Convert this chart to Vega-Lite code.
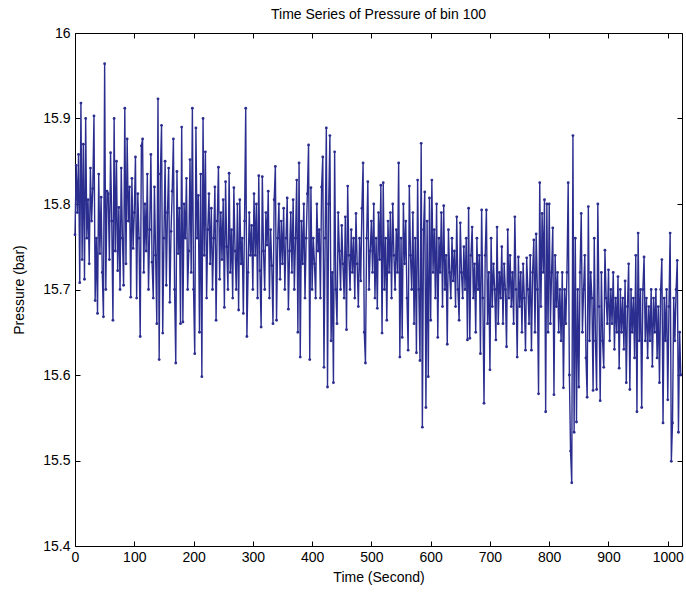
{
  "$schema": "https://vega.github.io/schema/vega-lite/v6.json",
  "width": 607,
  "height": 513,
  "autosize": {"type": "none"},
  "padding": {"left": 75, "top": 33, "right": 4, "bottom": 46},
  "background": "white",
  "title": {"text": "Time Series of Pressure of bin 100", "font": "Liberation Sans", "fontSize": 14, "fontWeight": "normal", "color": "black", "offset": 4},
  "config": {
    "view": {"stroke": "black", "strokeWidth": 1},
    "axis": {"labelFont": "Liberation Sans", "labelFontSize": 14, "labelColor": "black", "labelFlush": false, "titleFont": "Liberation Sans", "titleFontSize": 14, "titleFontWeight": "normal", "titleColor": "black", "domain": false, "ticks": true, "tickColor": "black", "tickOpacity": 1, "tickWidth": 1, "grid": false, "tickSize": 5, "offset": -5, "zindex": 1}
  },
  "data": {"values": [
{"t":0,"p":15.764},{"t":2,"p":15.845},{"t":4,"p":15.79},{"t":6,"p":15.858},{"t":8,"p":15.708},{"t":10,"p":15.918},{"t":12,"p":15.735},{"t":14,"p":15.87},{"t":16,"p":15.712},{"t":18,"p":15.9},
{"t":20,"p":15.76},{"t":22,"p":15.805},{"t":24,"p":15.73},{"t":26,"p":15.842},{"t":28,"p":15.78},{"t":30,"p":15.818},{"t":32,"p":15.903},{"t":34,"p":15.687},{"t":36,"p":15.76},{"t":38,"p":15.672},
{"t":40,"p":15.835},{"t":42,"p":15.742},{"t":44,"p":15.808},{"t":46,"p":15.72},{"t":48,"p":15.668},{"t":50,"p":15.964},{"t":52,"p":15.7},{"t":54,"p":15.815},{"t":56,"p":15.812},{"t":58,"p":15.735},
{"t":60,"p":15.86},{"t":62,"p":15.78},{"t":64,"p":15.664},{"t":66,"p":15.9},{"t":68,"p":15.745},{"t":70,"p":15.85},{"t":72,"p":15.722},{"t":74,"p":15.796},{"t":76,"p":15.7},{"t":78,"p":15.842},
{"t":80,"p":15.76},{"t":82,"p":15.705},{"t":84,"p":15.912},{"t":86,"p":15.73},{"t":88,"p":15.876},{"t":90,"p":15.78},{"t":92,"p":15.82},{"t":94,"p":15.691},{"t":96,"p":15.83},{"t":98,"p":15.748},
{"t":100,"p":15.79},{"t":102,"p":15.855},{"t":104,"p":15.69},{"t":106,"p":15.812},{"t":108,"p":15.76},{"t":110,"p":15.645},{"t":112,"p":15.868},{"t":114,"p":15.876},{"t":116,"p":15.72},{"t":118,"p":15.8},
{"t":120,"p":15.745},{"t":122,"p":15.835},{"t":124,"p":15.7},{"t":126,"p":15.77},{"t":128,"p":15.858},{"t":130,"p":15.732},{"t":132,"p":15.69},{"t":134,"p":15.82},{"t":136,"p":15.74},{"t":138,"p":15.66},
{"t":140,"p":15.923},{"t":142,"p":15.618},{"t":144,"p":15.835},{"t":146,"p":15.892},{"t":148,"p":15.649},{"t":150,"p":15.76},{"t":152,"p":15.85},{"t":154,"p":15.705},{"t":156,"p":15.79},{"t":158,"p":15.842},
{"t":160,"p":15.685},{"t":162,"p":15.768},{"t":164,"p":15.815},{"t":166,"p":15.876},{"t":168,"p":15.7},{"t":170,"p":15.614},{"t":172,"p":15.838},{"t":174,"p":15.742},{"t":176,"p":15.795},{"t":178,"p":15.66},
{"t":180,"p":15.89},{"t":182,"p":15.662},{"t":184,"p":15.8},{"t":186,"p":15.76},{"t":188,"p":15.83},{"t":190,"p":15.7},{"t":192,"p":15.745},{"t":194,"p":15.852},{"t":196,"p":15.72},{"t":198,"p":15.912},
{"t":200,"p":15.7},{"t":202,"p":15.625},{"t":204,"p":15.889},{"t":206,"p":15.76},{"t":208,"p":15.81},{"t":210,"p":15.65},{"t":212,"p":15.835},{"t":214,"p":15.598},{"t":216,"p":15.9},{"t":218,"p":15.74},
{"t":220,"p":15.861},{"t":222,"p":15.69},{"t":224,"p":15.77},{"t":226,"p":15.812},{"t":228,"p":15.73},{"t":230,"p":15.795},{"t":232,"p":15.7},{"t":234,"p":15.76},{"t":236,"p":15.82},{"t":238,"p":15.664},
{"t":240,"p":15.78},{"t":242,"p":15.843},{"t":244,"p":15.712},{"t":246,"p":15.79},{"t":248,"p":15.735},{"t":250,"p":15.805},{"t":252,"p":15.679},{"t":254,"p":15.826},{"t":256,"p":15.75},{"t":258,"p":15.7},
{"t":260,"p":15.836},{"t":262,"p":15.72},{"t":264,"p":15.77},{"t":266,"p":15.69},{"t":268,"p":15.819},{"t":270,"p":15.745},{"t":272,"p":15.7},{"t":274,"p":15.8},{"t":276,"p":15.676},{"t":278,"p":15.805},
{"t":280,"p":15.73},{"t":282,"p":15.76},{"t":284,"p":15.672},{"t":286,"p":15.78},{"t":288,"p":15.912},{"t":290,"p":15.645},{"t":292,"p":15.72},{"t":294,"p":15.79},{"t":296,"p":15.74},{"t":298,"p":15.775},
{"t":300,"p":15.7},{"t":302,"p":15.812},{"t":304,"p":15.74},{"t":306,"p":15.8},{"t":308,"p":15.69},{"t":310,"p":15.833},{"t":312,"p":15.722},{"t":314,"p":15.656},{"t":316,"p":15.832},{"t":318,"p":15.745},
{"t":320,"p":15.7},{"t":322,"p":15.79},{"t":324,"p":15.752},{"t":326,"p":15.815},{"t":328,"p":15.69},{"t":330,"p":15.77},{"t":332,"p":15.728},{"t":334,"p":15.66},{"t":336,"p":15.805},{"t":338,"p":15.844},
{"t":340,"p":15.664},{"t":342,"p":15.76},{"t":344,"p":15.8},{"t":346,"p":15.712},{"t":348,"p":15.78},{"t":350,"p":15.73},{"t":352,"p":15.795},{"t":354,"p":15.7},{"t":356,"p":15.76},{"t":358,"p":15.807},
{"t":360,"p":15.677},{"t":362,"p":15.745},{"t":364,"p":15.79},{"t":366,"p":15.72},{"t":368,"p":15.805},{"t":370,"p":15.7},{"t":372,"p":15.76},{"t":374,"p":15.828},{"t":376,"p":15.65},{"t":378,"p":15.848},
{"t":380,"p":15.621},{"t":382,"p":15.78},{"t":384,"p":15.73},{"t":386,"p":15.8},{"t":388,"p":15.69},{"t":390,"p":15.76},{"t":392,"p":15.812},{"t":394,"p":15.869},{"t":396,"p":15.618},{"t":398,"p":15.819},
{"t":400,"p":15.7},{"t":402,"p":15.76},{"t":404,"p":15.73},{"t":406,"p":15.69},{"t":408,"p":15.8},{"t":410,"p":15.745},{"t":412,"p":15.77},{"t":414,"p":15.69},{"t":416,"p":15.82},{"t":418,"p":15.855},
{"t":420,"p":15.609},{"t":422,"p":15.76},{"t":424,"p":15.889},{"t":426,"p":15.586},{"t":428,"p":15.8},{"t":430,"p":15.88},{"t":432,"p":15.64},{"t":434,"p":15.72},{"t":436,"p":15.591},{"t":438,"p":15.861},
{"t":440,"p":15.7},{"t":442,"p":15.66},{"t":444,"p":15.79},{"t":446,"p":15.745},{"t":448,"p":15.7},{"t":450,"p":15.775},{"t":452,"p":15.73},{"t":454,"p":15.69},{"t":456,"p":15.785},{"t":458,"p":15.653},
{"t":460,"p":15.821},{"t":462,"p":15.74},{"t":464,"p":15.7},{"t":466,"p":15.77},{"t":468,"p":15.72},{"t":470,"p":15.76},{"t":472,"p":15.69},{"t":474,"p":15.789},{"t":476,"p":15.73},{"t":478,"p":15.68},
{"t":480,"p":15.76},{"t":482,"p":15.71},{"t":484,"p":15.795},{"t":486,"p":15.848},{"t":488,"p":15.65},{"t":490,"p":15.614},{"t":492,"p":15.76},{"t":494,"p":15.826},{"t":496,"p":15.7},{"t":498,"p":15.745},
{"t":500,"p":15.78},{"t":502,"p":15.72},{"t":504,"p":15.8},{"t":506,"p":15.69},{"t":508,"p":15.76},{"t":510,"p":15.678},{"t":512,"p":15.79},{"t":514,"p":15.735},{"t":516,"p":15.822},{"t":518,"p":15.649},
{"t":520,"p":15.825},{"t":522,"p":15.7},{"t":524,"p":15.76},{"t":526,"p":15.664},{"t":528,"p":15.78},{"t":530,"p":15.72},{"t":532,"p":15.79},{"t":534,"p":15.69},{"t":536,"p":15.8},{"t":538,"p":15.74},
{"t":540,"p":15.7},{"t":542,"p":15.77},{"t":544,"p":15.72},{"t":546,"p":15.848},{"t":548,"p":15.621},{"t":550,"p":15.76},{"t":552,"p":15.644},{"t":554,"p":15.8},{"t":556,"p":15.73},{"t":558,"p":15.78},
{"t":560,"p":15.69},{"t":562,"p":15.629},{"t":564,"p":15.821},{"t":566,"p":15.74},{"t":568,"p":15.7},{"t":570,"p":15.79},{"t":572,"p":15.66},{"t":574,"p":15.76},{"t":576,"p":15.626},{"t":578,"p":15.828},
{"t":580,"p":15.7},{"t":582,"p":15.617},{"t":584,"p":15.871},{"t":586,"p":15.539},{"t":588,"p":15.77},{"t":590,"p":15.814},{"t":592,"p":15.562},{"t":594,"p":15.78},{"t":596,"p":15.598},{"t":598,"p":15.807},
{"t":600,"p":15.664},{"t":602,"p":15.828},{"t":604,"p":15.72},{"t":606,"p":15.77},{"t":608,"p":15.69},{"t":610,"p":15.8},{"t":612,"p":15.644},{"t":614,"p":15.76},{"t":616,"p":15.72},{"t":618,"p":15.79},
{"t":620,"p":15.68},{"t":622,"p":15.798},{"t":624,"p":15.7},{"t":626,"p":15.74},{"t":628,"p":15.636},{"t":630,"p":15.77},{"t":632,"p":15.72},{"t":634,"p":15.69},{"t":636,"p":15.76},{"t":638,"p":15.71},
{"t":640,"p":15.745},{"t":642,"p":15.68},{"t":644,"p":15.785},{"t":646,"p":15.7},{"t":648,"p":15.664},{"t":650,"p":15.778},{"t":652,"p":15.72},{"t":654,"p":15.69},{"t":656,"p":15.75},{"t":658,"p":15.7},
{"t":660,"p":15.76},{"t":662,"p":15.641},{"t":664,"p":15.795},{"t":666,"p":15.643},{"t":668,"p":15.74},{"t":670,"p":15.773},{"t":672,"p":15.69},{"t":674,"p":15.73},{"t":676,"p":15.65},{"t":678,"p":15.76},
{"t":680,"p":15.7},{"t":682,"p":15.74},{"t":684,"p":15.625},{"t":686,"p":15.793},{"t":688,"p":15.69},{"t":690,"p":15.567},{"t":692,"p":15.74},{"t":694,"p":15.793},{"t":696,"p":15.66},{"t":698,"p":15.72},
{"t":700,"p":15.606},{"t":702,"p":15.76},{"t":704,"p":15.68},{"t":706,"p":15.73},{"t":708,"p":15.7},{"t":710,"p":15.641},{"t":712,"p":15.773},{"t":714,"p":15.66},{"t":716,"p":15.72},{"t":718,"p":15.69},
{"t":720,"p":15.75},{"t":722,"p":15.66},{"t":724,"p":15.73},{"t":726,"p":15.7},{"t":728,"p":15.633},{"t":730,"p":15.77},{"t":732,"p":15.69},{"t":734,"p":15.74},{"t":736,"p":15.68},{"t":738,"p":15.72},
{"t":740,"p":15.66},{"t":742,"p":15.785},{"t":744,"p":15.7},{"t":746,"p":15.621},{"t":748,"p":15.738},{"t":750,"p":15.68},{"t":752,"p":15.72},{"t":754,"p":15.65},{"t":756,"p":15.73},{"t":758,"p":15.69},
{"t":760,"p":15.629},{"t":762,"p":15.737},{"t":764,"p":15.7},{"t":766,"p":15.66},{"t":768,"p":15.74},{"t":770,"p":15.629},{"t":772,"p":15.72},{"t":774,"p":15.758},{"t":776,"p":15.65},{"t":778,"p":15.765},
{"t":780,"p":15.7},{"t":782,"p":15.578},{"t":784,"p":15.825},{"t":786,"p":15.68},{"t":788,"p":15.789},{"t":790,"p":15.72},{"t":792,"p":15.805},{"t":794,"p":15.557},{"t":796,"p":15.8},{"t":798,"p":15.65},
{"t":800,"p":15.8},{"t":802,"p":15.66},{"t":804,"p":15.72},{"t":806,"p":15.772},{"t":808,"p":15.577},{"t":810,"p":15.74},{"t":812,"p":15.68},{"t":814,"p":15.72},{"t":816,"p":15.65},{"t":818,"p":15.7},
{"t":820,"p":15.64},{"t":822,"p":15.72},{"t":824,"p":15.585},{"t":826,"p":15.7},{"t":828,"p":15.66},{"t":830,"p":15.72},{"t":832,"p":15.825},{"t":834,"p":15.6},{"t":836,"p":15.511},{"t":838,"p":15.474},
{"t":840,"p":15.88},{"t":842,"p":15.533},{"t":844,"p":15.76},{"t":846,"p":15.545},{"t":848,"p":15.7},{"t":850,"p":15.586},{"t":852,"p":15.72},{"t":854,"p":15.789},{"t":856,"p":15.65},{"t":858,"p":15.7},
{"t":860,"p":15.74},{"t":862,"p":15.62},{"t":864,"p":15.574},{"t":866,"p":15.797},{"t":868,"p":15.64},{"t":870,"p":15.72},{"t":872,"p":15.69},{"t":874,"p":15.582},{"t":876,"p":15.76},{"t":878,"p":15.64},
{"t":880,"p":15.583},{"t":882,"p":15.8},{"t":884,"p":15.68},{"t":886,"p":15.57},{"t":888,"p":15.72},{"t":890,"p":15.64},{"t":892,"p":15.609},{"t":894,"p":15.746},{"t":896,"p":15.69},{"t":898,"p":15.66},
{"t":900,"p":15.723},{"t":902,"p":15.64},{"t":904,"p":15.7},{"t":906,"p":15.66},{"t":908,"p":15.72},{"t":910,"p":15.63},{"t":912,"p":15.69},{"t":914,"p":15.65},{"t":916,"p":15.715},{"t":918,"p":15.608},
{"t":920,"p":15.7},{"t":922,"p":15.65},{"t":924,"p":15.69},{"t":926,"p":15.63},{"t":928,"p":15.71},{"t":930,"p":15.591},{"t":932,"p":15.68},{"t":934,"p":15.73},{"t":936,"p":15.583},{"t":938,"p":15.7},
{"t":940,"p":15.65},{"t":942,"p":15.69},{"t":944,"p":15.62},{"t":946,"p":15.74},{"t":948,"p":15.557},{"t":950,"p":15.766},{"t":952,"p":15.64},{"t":954,"p":15.7},{"t":956,"p":15.562},{"t":958,"p":15.7},
{"t":960,"p":15.738},{"t":962,"p":15.64},{"t":964,"p":15.69},{"t":966,"p":15.62},{"t":968,"p":15.68},{"t":970,"p":15.64},{"t":972,"p":15.7},{"t":974,"p":15.61},{"t":976,"p":15.69},{"t":978,"p":15.65},
{"t":980,"p":15.7},{"t":982,"p":15.62},{"t":984,"p":15.68},{"t":986,"p":15.591},{"t":988,"p":15.7},{"t":990,"p":15.735},{"t":992,"p":15.544},{"t":994,"p":15.69},{"t":996,"p":15.64},{"t":998,"p":15.7},
{"t":1000,"p":15.571},{"t":1002,"p":15.68},{"t":1004,"p":15.766},{"t":1006,"p":15.499},{"t":1008,"p":15.544},{"t":1010,"p":15.69},{"t":1012,"p":15.64},{"t":1014,"p":15.7},{"t":1016,"p":15.734},{"t":1018,"p":15.533},
{"t":1020,"p":15.65},{"t":1022,"p":15.6}
  ]},
  "layer": [
    {
      "mark": {"type": "line", "color": "#2b2e8f", "strokeWidth": 1.4, "point": {"filled": true, "size": 8, "color": "#2b2e8f"}},
      "encoding": {
        "x": {"field": "t", "type": "quantitative", "scale": {"domain": [0, 1024], "nice": false, "zero": false},
              "axis": {"title": "Time (Second)", "values": [0,100,200,300,400,500,600,700,800,900,1000], "format": "d", "labelPadding": 4, "titlePadding": 6}},
        "y": {"field": "p", "type": "quantitative", "scale": {"domain": [15.4, 16], "nice": false, "zero": false},
              "axis": {"title": "Pressure (bar)", "values": [15.4,15.5,15.6,15.7,15.8,15.9,16], "format": ".1~f", "labelPadding": 5, "titlePadding": 16}}
      }
    },
    {
      "mark": {"type": "line", "opacity": 0},
      "encoding": {
        "x": {"field": "t", "type": "quantitative", "axis": {"orient": "top", "title": null, "labels": false, "values": [0,100,200,300,400,500,600,700,800,900,1000]}},
        "y": {"field": "p", "type": "quantitative", "axis": {"orient": "right", "title": null, "labels": false, "values": [15.4,15.5,15.6,15.7,15.8,15.9,16]}}
      }
    }
  ],
  "resolve": {"axis": {"x": "independent", "y": "independent"}}
}
